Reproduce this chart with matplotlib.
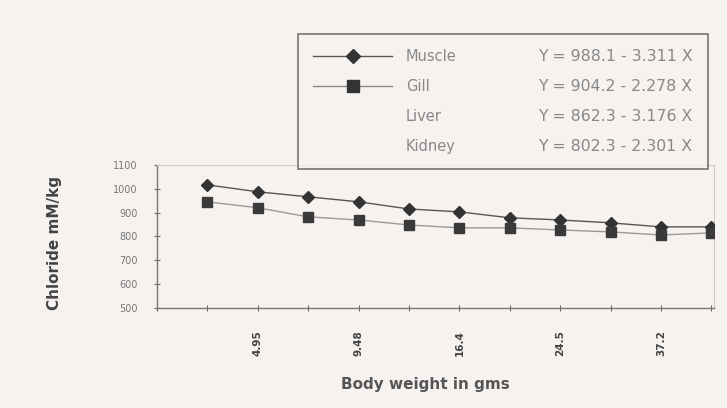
import matplotlib
matplotlib.use("Agg")
import matplotlib.pyplot as plt
from matplotlib.lines import Line2D

# ---- data ----
tick_labels = ["", "", "4.95", "", "9.48", "", "16.4", "", "24.5", "", "37.2", ""]
muscle = [1016, 987, 966, 945, 915, 903, 878, 869, 857, 840, 840]
gill = [945, 920, 882, 869, 848, 836, 836, 827, 819, 806, 815]
series_names = ["Muscle", "Gill", "Liver", "Kidney"]
equations = ["Y = 988.1 - 3.311 X", "Y = 904.2 - 2.278 X",
             "Y = 862.3 - 3.176 X", "Y = 802.3 - 2.301 X"]
y_ticks = [500, 600, 700, 800, 900, 1000, 1100]

bg = "#f6f2f0"
fig = plt.figure(figsize=(7.27, 4.08), dpi=100, facecolor=bg)
ax = fig.add_axes([0.216, 0.245, 0.766, 0.351], facecolor=bg)

xs = list(range(1, len(muscle) + 1))
ax.plot(xs, muscle, color="#555555", lw=1.0, marker="D", ms=6,
        mfc="#333333", mec="#333333", zorder=3)
ax.plot(xs, gill, color="#9a9a9a", lw=1.0, marker="s", ms=6.5,
        mfc="#3a3a3a", mec="#3a3a3a", zorder=3)

ax.set_xlim(0, 11.05)
ax.set_ylim(500, 1100)
ax.set_yticks(y_ticks)
ax.set_yticklabels([str(v) for v in y_ticks], fontsize=7, color="#777777")
ax.set_xticks(range(len(tick_labels)))
ax.set_xticklabels(tick_labels, rotation=90, fontsize=7.5, fontweight="bold",
                   color="#444444", va="top")
ax.tick_params(axis="y", direction="inout", length=4, pad=12, color="#666666")
ax.tick_params(axis="x", direction="inout", length=4, pad=14, color="#666666")

for side in ["top", "right"]:
    ax.spines[side].set_color("#cccccc")
    ax.spines[side].set_linewidth(0.8)
for side in ["left", "bottom"]:
    ax.spines[side].set_color("#777777")
    ax.spines[side].set_linewidth(1.0)

fig.text(0.585, 0.057, "Body weight in gms", ha="center", va="center",
         fontsize=11, fontweight="bold", color="#555555")
fig.text(0.075, 0.404, "Chloride mM/kg", ha="center", va="center",
         rotation=90, fontsize=11, fontweight="bold", color="#444444")

# ---- legend ----
h_muscle = Line2D([], [], color="#555555", lw=1.0, marker="D", ms=7,
                  mfc="#333333", mec="#333333")
h_gill = Line2D([], [], color="#888888", lw=1.0, marker="s", ms=8,
                mfc="#333333", mec="#333333")
h_blank = Line2D([], [], color="none", lw=0)
handles = [h_muscle, h_gill, h_blank, h_blank] + [h_blank] * 4
labels = series_names + equations
leg = fig.legend(handles, labels, ncol=2, loc="upper left",
                 bbox_to_anchor=(298 / 727, 1 - 34 / 408), fontsize=10,
                 handlelength=5.7, handletextpad=0.95, columnspacing=-0.75,
                 labelspacing=1.07, borderpad=1.1, fancybox=False,
                 frameon=True, labelcolor="#888888", borderaxespad=0)
for i, t in enumerate(leg.get_texts()):
    t.set_fontsize(10.5 if i < 4 else 11.3)
leg.get_frame().set_edgecolor("#555555")
leg.get_frame().set_linewidth(1.2)
leg.get_frame().set_facecolor(bg)
leg.set_zorder(5)

fig.savefig("out.png", dpi=100, facecolor=bg)
